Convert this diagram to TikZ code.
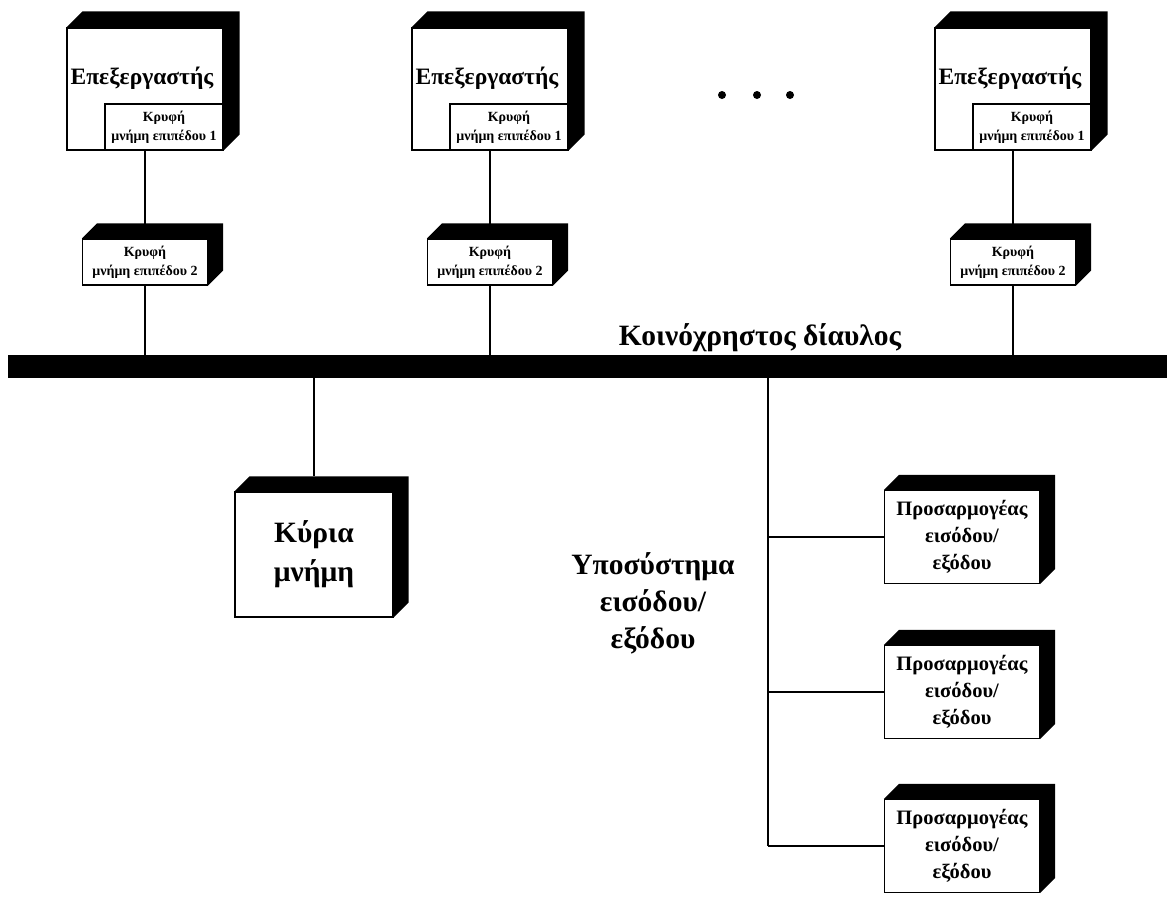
\documentclass[tikz,border=0pt]{standalone}
\usepackage{fontspec}
\setmainfont{Liberation Serif}
% black top and right faces of a box drawn in false perspective
\newcommand\depthfaces[2]{%
  \fill[black] (#1.north west) -- ([shift={(#2pt,#2pt)}]#1.north west)
    -- ([shift={(#2pt,#2pt)}]#1.north east)
    -- ([shift={(#2pt,#2pt)}]#1.south east)
    -- (#1.south east) -- (#1.north east) -- cycle;}
\begin{document}
\begin{tikzpicture}[x=1pt,y=-1pt,
  face/.style={draw=black, fill=white, line width=1.2pt, inner sep=0pt,
    align=center, font=\bfseries},
  cpubox/.style={face, minimum width=156pt, minimum height=122pt},
  lonebox/.style={face, minimum width=118pt, minimum height=46pt,
    font=\bfseries\fontsize{14}{19}\selectfont},
  ltwobox/.style={face, minimum width=125pt, minimum height=46pt,
    font=\bfseries\fontsize{14}{19}\selectfont},
  iobox/.style={face, minimum width=155pt, minimum height=93pt,
    font=\bfseries\fontsize{20.5}{27}\selectfont},
  cpulabel/.style={font=\bfseries\fontsize{23.5}{26}\selectfont},
  biglabel/.style={font=\bfseries\fontsize{29.5}{37}\selectfont, align=center},
  link/.style={line width=1.3pt},
  dot/.style={circle, fill=black, minimum size=8pt, inner sep=0pt}]
\useasboundingbox (0,0) rectangle (1167,898);

% processors with their level-1 caches
\foreach \n/\cx in {1/145, 2/490, 3/1013} {
  \node[cpubox] (p\n) at (\cx,89) {};
  \depthfaces{p\n}{16}
  \node[cpulabel] (p\n lbl) at (\cx-3,78) {Επεξεργαστής};
  \node[lonebox, anchor=south east] (c\n) at (p\n.south east) {Κρυφή\\μνήμη επιπέδου 1};
  \node[ltwobox] (l\n) at (\cx,262) {Κρυφή\\μνήμη επιπέδου 2};
  \depthfaces{l\n}{15}
}

\node[dot] (d1) at (722,95) {};
\node[dot] (d2) at (757,95) {};
\node[dot] (d3) at (790,95) {};

% shared bus
\node[fill=black, minimum width=1159pt, minimum height=23pt, inner sep=0pt,
  anchor=north west] (bus) at (8,355) {};
\node[biglabel] (buslbl) at (760,338) {Κοινόχρηστος δίαυλος};

\foreach \n in {1,2,3} {
  \draw[link] (p\n.south) -- (l\n.north);
  \draw[link] (l\n.south) -- (l\n.south |- bus.north);
}

% main memory
\node[face, minimum width=158pt, minimum height=125pt, biglabel,
  font=\bfseries\fontsize{29.5}{39}\selectfont] (mem) at (314,554.5) {Κύρια\\μνήμη};
\depthfaces{mem}{15}
\draw[link] (mem.north |- bus.south) -- ([yshift=15pt]mem.north);

% input/output subsystem
\node[biglabel] (iolbl) at (653,603) {Υποσύστημα\\εισόδου/\\εξόδου};
\coordinate (trunk) at (768,0);
\foreach \n/\cy in {1/537, 2/692, 3/846} {
  \node[iobox] (io\n) at (962,\cy) {Προσαρμογέας\\εισόδου/\\εξόδου};
  \depthfaces{io\n}{15}
  \draw[link] (trunk |- io\n.west) -- (io\n.west);
}
\draw[link] (trunk |- bus.south) -- (trunk |- io3.west);
\end{tikzpicture}
\end{document}
